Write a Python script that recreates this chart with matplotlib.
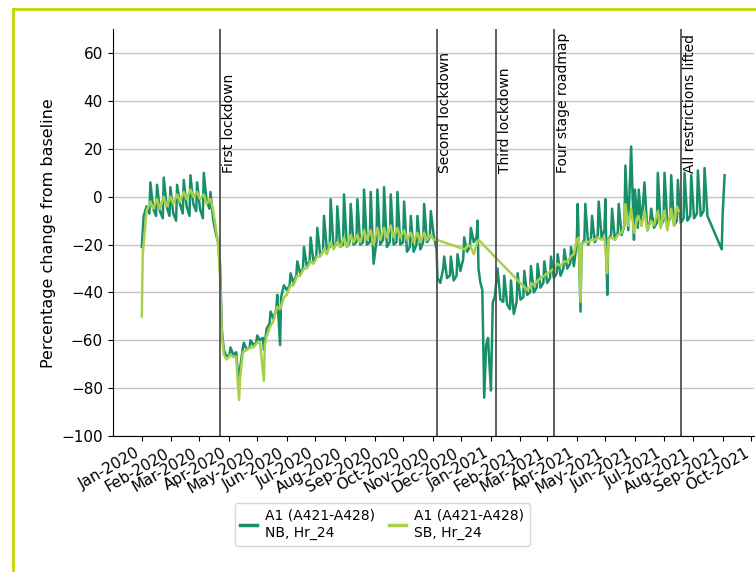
import numpy as np
import matplotlib.pyplot as plt
import matplotlib.dates as mdates
from matplotlib.lines import Line2D

start = np.datetime64('2020-01-01')

# A1 (A421-A428) northbound, Hr_24: day number since 1 Jan 2020, % change from baseline
nb_day = [0, 2, 5, 8, 9, 12, 15, 16, 19, 22, 23, 26, 29, 30, 33, 36, 37, 40, 43, 44,
          47, 50, 51, 54, 57, 58, 61, 64, 65, 68, 71, 72, 75, 78, 80, 82, 84, 86, 89,
          92, 93, 96, 99, 100, 102, 103, 106, 107, 110, 113, 114, 117, 120, 121, 124,
          127, 128, 131, 134, 135, 138, 141, 142, 145, 146, 149, 152, 155, 156, 159,
          162, 163, 166, 169, 170, 173, 176, 177, 180, 183, 184, 187, 190, 191, 194,
          197, 198, 201, 204, 205, 208, 211, 212, 215, 218, 219, 222, 225, 226, 229,
          232, 233, 236, 239, 240, 243, 246, 247, 250, 253, 254, 257, 260, 261, 264,
          267, 268, 271, 274, 275, 278, 281, 282, 285, 288, 289, 292, 295, 296, 299,
          302, 303, 306, 309, 310, 313, 316, 317, 320, 323, 324, 327, 330, 331, 334,
          337, 338, 341, 344, 345, 348, 351, 352, 353, 355, 357, 359, 361, 363, 366,
          368, 370, 373, 376, 379, 380, 383, 386, 387, 390, 393, 394, 397, 400, 401,
          404, 407, 408, 411, 414, 415, 418, 421, 422, 425, 428, 429, 432, 435, 436,
          439, 442, 443, 446, 449, 450, 453, 456, 457, 460, 461, 464, 465, 468, 471,
          472, 475, 478, 479, 482, 485, 486, 488, 489, 492, 493, 496, 499, 500, 503,
          506, 507, 510, 513, 516, 517, 520, 521, 524, 527, 530, 533, 534, 537, 540,
          541, 544, 547, 548, 551, 554, 555, 558, 561, 562, 565, 568, 569, 572, 575,
          576, 579, 582, 583, 586, 589, 590, 593, 608, 609, 611]
nb_val = [-21, -8, -4, -7, 6, -5, -8, 5, -6, -9, 8, -4, -8, 4, -7, -10, 5, -3, -7, 7,
          -4, -8, 9, -3, -6, 6, -5, -9, 10, -2, -5, 2, -10, -16, -19, -28, -56, -64, -67,
          -66, -63, -66, -65, -70, -80, -72, -63, -61, -64, -63, -60, -62, -61, -58, -60,
          -59, -64, -55, -53, -48, -51, -47, -41, -62, -42, -37, -39, -37, -32, -36,
          -33, -27, -32, -30, -21, -29, -27, -17, -27, -25, -13, -24, -23, -8, -22,
          -21, -1, -21, -20, -4, -21, -20, 1, -21, -19, -3, -20, -19, -1, -20,
          -19, 3, -20, -19, 2, -28, -19, 3, -20, -18, 4, -21, -19, 1, -20,
          -19, 2, -20, -19, -2, -23, -21, -8, -23, -20, -8, -22, -19, -3, -19,
          -17, -6, -16, -22, -34, -36, -30, -25, -34, -33, -25, -35, -33, -24, -31,
          -26, -17, -23, -21, -13, -19, -17, -10, -30, -36, -39, -84, -62, -59, -81,
          -44, -42, -30, -43, -44, -33, -45, -47, -35, -49, -44, -32, -43, -42, -31,
          -41, -40, -29, -40, -38, -28, -38, -36, -27, -36, -34, -25, -34, -32, -24,
          -33, -30, -22, -30, -28, -21, -29, -19, -3, -48, -20, -18, -3, -20, -17,
          -8, -19, -16, -2, -17, -14, -1, -41, -18, -16, -5, -18, -15, -3, -16,
          -12, 13, -14, 21, -18, 3, -13, 3, -12, 6, -14, -10, -5, -13, -11,
          10, -12, -10, 10, -11, -9, 9, -12, -10, 7, -11, -9, 10, -10, -8,
          9, -9, -7, 11, -8, -6, 12, -8, -22, -7, 9]

# A1 (A421-A428) southbound, Hr_24
sb_day = [0, 1, 3, 5, 9, 12, 16, 19, 23, 26, 30, 33, 37, 40, 44, 47, 51, 54, 58, 61,
          65, 68, 72, 75, 78, 80, 82, 84, 86, 89, 93, 96, 99, 100, 102, 103, 106, 110,
          114, 117, 121, 124, 128, 129, 131, 135, 138, 142, 145, 149, 152, 156, 159,
          163, 166, 170, 173, 177, 180, 184, 187, 191, 194, 198, 201, 205, 208, 212,
          215, 219, 222, 226, 229, 233, 236, 240, 243, 247, 250, 254, 257, 261, 264,
          268, 271, 275, 278, 282, 285, 289, 292, 296, 299, 303, 306, 309,
          339, 342, 345, 348, 351, 353,
          404, 407, 408, 411, 415, 418, 422, 425, 429, 432, 436, 439, 443, 446, 450,
          453, 456, 458, 460, 461, 464, 468, 471, 475, 478, 482, 485, 488, 489, 492,
          496, 499, 503, 506, 507, 510, 513, 516, 520, 524, 527, 530, 534, 537, 541,
          544, 548, 551, 555, 558, 561, 563]
sb_val = [-50, -24, -15, -6, -2, -5, -1, -5, 0, -4, 0, -3, 1, -2, 2, -1, 3, 0, 2, -1,
          1, -3, -1, -6, -14, -20, -33, -58, -66, -68, -66, -67, -67, -74, -85, -76, -65, -64,
          -63, -63, -61, -61, -77, -62, -58, -54, -52, -46, -47, -42, -41, -37, -37,
          -33, -33, -30, -30, -27, -28, -25, -25, -22, -24, -19, -22, -19, -21, -17,
          -21, -16, -19, -16, -19, -14, -18, -14, -20, -13, -18, -13, -17, -12, -17,
          -13, -17, -14, -18, -15, -19, -15, -19, -15, -18, -16, -18, -18,
          -22, -20, -21, -24, -20, -18,
          -39, -38, -36, -37, -35, -34, -33, -32, -31, -30, -28, -29, -27, -27, -25,
          -24, -18, -17, -44, -20, -19, -19, -18, -18, -17, -18, -17, -32, -18, -17,
          -18, -16, -15, -12, -3, -12, -5, -15, -8, -12, -6, -14, -10, -12, -6,
          -13, -6, -14, -5, -12, -4, -6]

events = ['First lockdown', 'Second lockdown', 'Third lockdown',
          'Four stage roadmap', 'All restrictions lifted']
event_dates = ['2020-03-23', '2020-11-05', '2021-01-06', '2021-03-08', '2021-07-19']

nb_dates = start + np.array(nb_day)
sb_dates = start + np.array(sb_day)

fig = plt.figure(figsize=(7.56, 5.72), dpi=100)
ax = fig.add_axes([0.149, 0.2378, 0.848, 0.711])

ax.plot(nb_dates, nb_val, color='#178f68', lw=1.8, label='A1 (A421-A428)\nNB, Hr_24')
ax.plot(sb_dates, sb_val, color='#a9d04a', lw=1.8, label='A1 (A421-A428)\nSB, Hr_24')

for name, d in zip(events, event_dates):
    x = np.datetime64(d)
    ax.axvline(x, color='#505050', lw=1.3)
    ax.text(x + np.timedelta64(2, 'D'), 10, name, rotation=90, ha='left', va='bottom',
            fontsize=10)

ax.set_ylim(-100, 70)
ax.set_yticks(range(-100, 61, 20))
ax.yaxis.grid(True, color='#c4c4c4', lw=1)
ax.set_axisbelow(True)
ax.set_ylabel('Percentage change from baseline', fontsize=11.5)
ax.tick_params(axis='y', labelsize=11)

ax.xaxis.set_major_locator(mdates.MonthLocator())
ax.xaxis.set_major_formatter(mdates.DateFormatter('%b-%Y'))
plt.setp(ax.get_xticklabels(), rotation=30, ha='right', fontsize=11)

ax.spines['top'].set_visible(False)
ax.spines['right'].set_visible(False)

leg = fig.legend(loc='upper center', bbox_to_anchor=(382 / 756, 1 - 496 / 572), ncol=2,
                 fontsize=10, handlelength=1.2, handletextpad=0.6, columnspacing=1.0)
for t in leg.get_texts():
    t.set_linespacing(1.35)
for h in leg.legend_handles:
    h.set_linewidth(2.5)

# green page frame
fig.add_artist(Line2D([13 / 756, 13 / 756], [0, 1 - 9 / 572], transform=fig.transFigure,
                      color='#c3d600', lw=2))
fig.add_artist(Line2D([13 / 756, 1], [1 - 9 / 572, 1 - 9 / 572], transform=fig.transFigure,
                      color='#c3d600', lw=2))

fig.savefig('out.png', dpi=100)
